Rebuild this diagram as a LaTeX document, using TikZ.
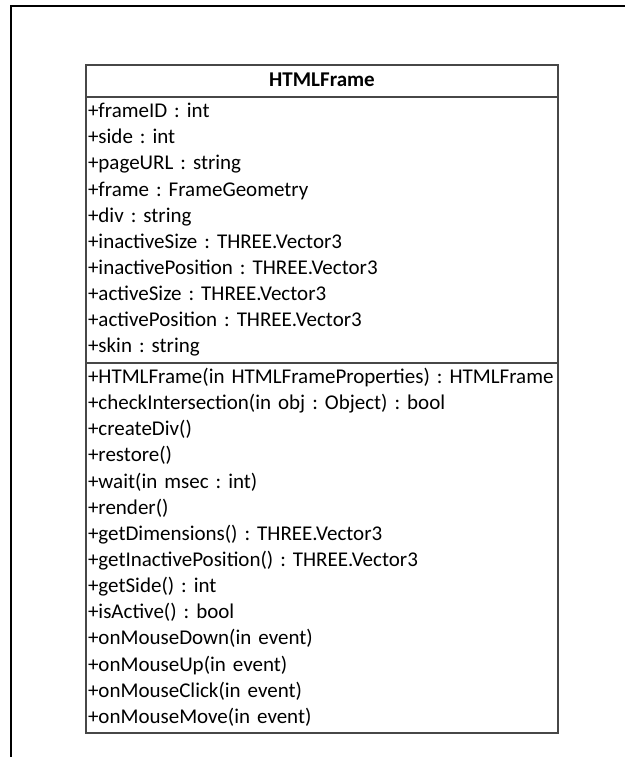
\documentclass[tikz,border=0pt]{standalone}
\usepackage{fontspec}
\setmainfont{Carlito}
\frenchspacing
\usetikzlibrary{positioning}

\begin{document}
\begin{tikzpicture}[x=0.75pt,y=-0.75pt,node distance=0pt]
\tikzstyle{umlline}=[draw=black!72, line width=1.2pt]
\tikzstyle{member}=[rectangle, text width=351pt, inner xsep=1.5pt, inner ysep=0pt, minimum height=19.2pt, text height=12pt, text depth=4pt, align=left, font=\fontsize{15.75pt}{19pt}\selectfont]
\tikzstyle{classname}=[member, align=center, minimum height=24pt, font=\fontsize{15.75pt}{19pt}\selectfont\bfseries]
\useasboundingbox (0,0) rectangle (625,757);
% page border, cut off on the right and at the bottom
\draw[line width=1.7pt] (11,757) -- (11,6) -- (625,6);
% class name
\node (cls) [classname] at (322,81) {HTMLFrame};
% attributes
\node (fid) [member, below=1.5pt of cls] {+frameID : int};
\node (side) [member, below=of fid] {+side : int};
\node (url) [member, below=of side] {+pageURL : string};
\node (frm) [member, below=of url] {+frame : FrameGeometry};
\node (div) [member, below=of frm] {+div : string};
\node (isize) [member, below=of div] {+inactiveSize : THREE.Vector3};
\node (ipos) [member, below=of isize] {+inactivePosition : THREE.Vector3};
\node (asize) [member, below=of ipos] {+activeSize : THREE.Vector3};
\node (apos) [member, below=of asize] {+activePosition : THREE.Vector3};
\node (skin) [member, below=of apos] {+skin : string};
% operations
\node (ctor) [member, below=3.4pt of skin] {+HTMLFrame(in HTMLFrameProperties) : HTMLFrame};
\node (chk) [member, below=of ctor] {+checkIntersection(in obj : Object) : bool};
\node (cdiv) [member, below=of chk] {+createDiv()};
\node (rest) [member, below=of cdiv] {+restore()};
\node (wait) [member, below=of rest] {+wait(in msec : int)};
\node (rend) [member, below=of wait] {+render()};
\node (gdim) [member, below=of rend] {+getDimensions() : THREE.Vector3};
\node (gipos) [member, below=of gdim] {+getInactivePosition() : THREE.Vector3};
\node (gside) [member, below=of gipos] {+getSide() : int};
\node (act) [member, below=of gside] {+isActive() : bool};
\node (mdown) [member, below=of act] {+onMouseDown(in event)};
\node (mup) [member, below=of mdown] {+onMouseUp(in event)};
\node (mclick) [member, below=of mup] {+onMouseClick(in event)};
\node (mmove) [member, below=of mclick] {+onMouseMove(in event)};
% class box and compartment lines
\draw[umlline] (cls.north west) rectangle ([yshift=-1.5pt]mmove.south east);
\draw[umlline] (cls.south west) -- (cls.south east);
\draw[umlline] ([yshift=-1.7pt]skin.south west) -- ([yshift=-1.7pt]skin.south east);
\end{tikzpicture}
\end{document}
